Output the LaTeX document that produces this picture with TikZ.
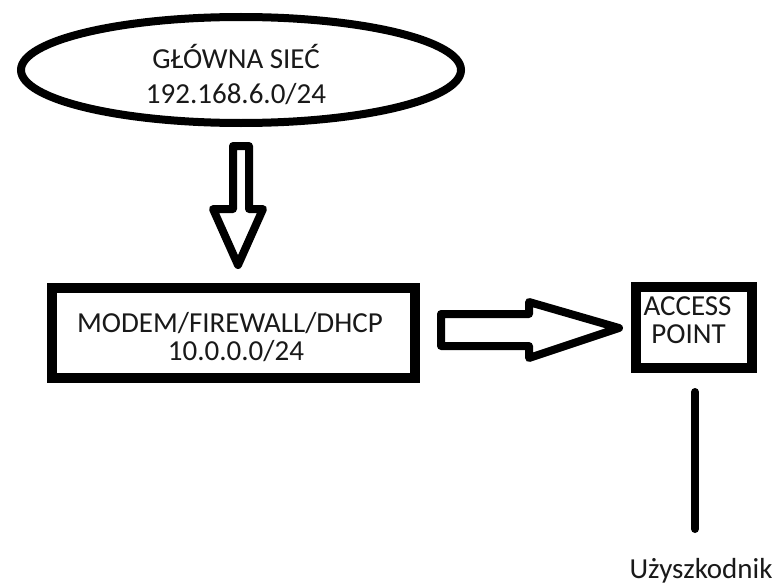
\documentclass[tikz,border=0pt]{standalone}
\usepackage{fontspec}
\setmainfont{Carlito}
\usetikzlibrary{shapes.geometric}
\begin{document}
\begin{tikzpicture}[x=1pt,y=-1pt,
  lbl/.style={anchor=base,inner sep=0pt,font=\fontsize{29}{35}\selectfont,text=black!90},
  frame/.style={draw,rectangle,inner sep=0pt},
  blockarrow/.style={draw,line width=8pt,line join=round,fill=white}]
\useasboundingbox (0,0) rectangle (778,586);
\fill[white] (0,0) rectangle (778,586);

% main network
\node[ellipse,draw,line width=8pt,minimum width=440pt,minimum height=106pt,inner sep=0pt] (net) at (241,70) {};
\node[lbl] (netname) at (236,68) {GŁÓWNA SIEĆ};
\node[lbl] (netaddr) at (236,103) {192.168.6.0/24};

% router
\node[frame,line width=10pt,minimum width=363pt,minimum height=90pt] (fw) at (233.5,333) {};
\node[lbl] (fwname) at (230,332) {MODEM/FIREWALL/DHCP};
\node[lbl] (fwaddr) at (236,360) {10.0.0.0/24};

% access point
\node[frame,line width=10.5pt,minimum width=116pt,minimum height=81pt] (ap) at (694,327.5) {};
\node[lbl] (apname) at (687.5,315) {ACCESS};
\node[lbl] (apname2) at (688.5,343) {POINT};

% client
\node[lbl] (user) at (701,578.5) {Użyszkodnik};

% block arrow: network -> router
\draw[blockarrow] (233,146) -- (249,146) -- (249,209) -- (263,209) -- (238,265)
  -- (213,209) -- (233,209) -- cycle;

% block arrow: router -> access point
\draw[blockarrow] (441,314) -- (529,314) -- (529,302) -- (619,328) -- (529,358)
  -- (529,346) -- (441,346) -- cycle;

% link: access point -> client
\coordinate (linktop) at (695,392);
\coordinate (linkbot) at (695,529);
\draw[line width=8pt,line cap=round] (linktop) -- (linkbot);
\end{tikzpicture}
\end{document}
